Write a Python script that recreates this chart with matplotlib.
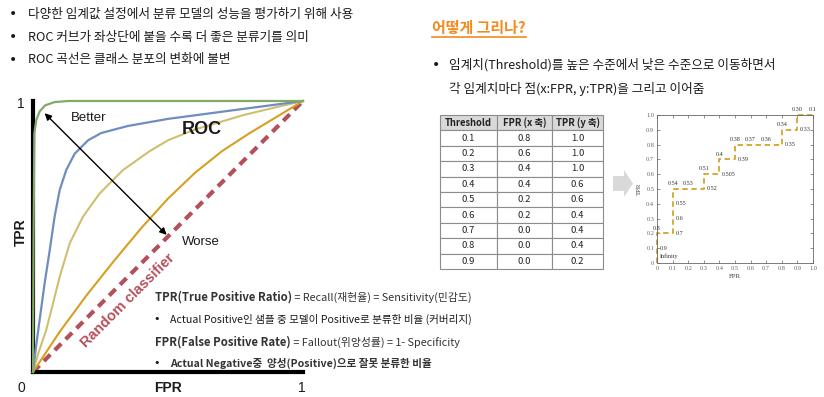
import numpy as np
import matplotlib
matplotlib.use("Agg")
from matplotlib import pyplot as plt
from matplotlib.lines import Line2D
from matplotlib.patches import Polygon

plt.rcParams['font.family'] = ['Noto Sans CJK KR', 'DejaVu Sans']

# ---- data ----
top_bullets = ["다양한 임계값 설정에서 분류 모델의 성능을 평가하기 위해 사용",
               "ROC 커브가 좌상단에 붙을 수록 더 좋은 분류기를 의미",
               "ROC 곡선은 클래스 분포의 변화에 불변"]

green_x = [0, 0.002, 0.005, 0.012, 0.025, 0.045, 0.08, 0.13, 1.0]
green_y = [0, 0.5, 0.88, 0.93, 0.962, 0.984, 0.996, 1.0, 1.0]

blue_x = [0, 0.012, 0.027, 0.043, 0.062, 0.08, 0.099, 0.123, 0.154, 0.204, 0.253, 0.352, 0.5, 0.75, 1.0]
blue_y = [0, 0.1, 0.21, 0.327, 0.45, 0.573, 0.672, 0.745, 0.805, 0.855, 0.882, 0.908, 0.934, 0.967, 1.0]

khaki_x = [0, 0.02, 0.049, 0.068, 0.099, 0.136, 0.185, 0.247, 0.333, 0.432, 0.5, 0.6, 0.779, 0.9, 1.0]
khaki_y = [0, 0.07, 0.155, 0.229, 0.352, 0.475, 0.573, 0.659, 0.745, 0.815, 0.855, 0.895, 0.948, 0.977, 1.0]

gold_x = [0, 0.1, 0.2, 0.3, 0.4, 0.5, 0.6, 0.7, 0.8, 0.9, 1.0]
gold_y = [0, 0.15, 0.285, 0.41, 0.53, 0.64, 0.735, 0.815, 0.88, 0.94, 1.0]

random_x = [0, 1]
random_y = [0, 1]

thresholds = ['0.1', '0.2', '0.3', '0.4', '0.5', '0.6', '0.7', '0.8', '0.9']
fpr_tab = [0.8, 0.6, 0.4, 0.4, 0.2, 0.2, 0.0, 0.0, 0.0]
tpr_tab = [1.0, 1.0, 1.0, 0.6, 0.6, 0.4, 0.4, 0.4, 0.2]
tab_header = ['Threshold', 'FPR (x 축)', 'TPR (y 축)']

step_fpr = [0, 0, 0, 0.1, 0.1, 0.1, 0.1, 0.2, 0.3, 0.3, 0.4, 0.4, 0.5, 0.5, 0.6, 0.7, 0.8, 0.8, 0.9, 0.9, 1.0]
step_tpr = [0, 0.1, 0.2, 0.2, 0.3, 0.4, 0.5, 0.5, 0.5, 0.6, 0.6, 0.7, 0.7, 0.8, 0.8, 0.8, 0.8, 0.9, 0.9, 1.0, 1.0]
step_labels = ['Infinity', '0.9', '0.8', '0.7', '0.6', '0.55', '0.54', '0.53', '0.52', '0.51', '0.505',
               '0.4', '0.39', '0.38', '0.37', '0.36', '0.35', '0.34', '0.33', '0.30', '0.1']

W, H = 824, 397
def fx(x):
    return x / W
def fy(y):
    return 1 - y / H

fig = plt.figure(figsize=(8.24, 3.97), dpi=100)
ink = '#1a1a1a'

# ---- top-left bullets ----
for i, s in enumerate(top_bullets):
    y = 14 + i * 23
    fig.text(fx(13), fy(y), '•', ha='center', va='center', fontsize=10, color=ink, family='DejaVu Sans')
    fig.text(fx(28), fy(y), s, ha='left', va='center', fontsize=9.1, color=ink)

# ---- ROC illustration ----
ax = fig.add_axes([fx(33), fy(372), 270 / W, 271 / H])
ax.set_xlim(0, 1)
ax.set_ylim(0, 1)
for s in ['top', 'right']:
    ax.spines[s].set_visible(False)
for s in ['left', 'bottom']:
    ax.spines[s].set_linewidth(3)
    ax.spines[s].set_color('black')
ax.set_xticks([])
ax.set_yticks([])
ax.patch.set_alpha(0)

ax.plot(random_x, random_y, color='#b4505c', lw=3, linestyle=(0, (2.2, 1.5)), zorder=2, clip_on=False)
ax.plot(gold_x, gold_y, color='#d6a020', lw=1.5, zorder=3, clip_on=False)
ax.plot(khaki_x, khaki_y, color='#cfbf70', lw=1.5, zorder=3, clip_on=False)
ax.plot(blue_x, blue_y, color='#6f8dbf', lw=1.6, zorder=3, clip_on=False)
ax.plot(green_x, green_y, color='#84a866', lw=1.6, zorder=4, clip_on=False)

ax.annotate('', xy=(0.043, 0.955), xytext=(0.495, 0.506),
            arrowprops=dict(arrowstyle='<|-|>', color='black', lw=1, mutation_scale=10,
                            shrinkA=0, shrinkB=0), zorder=5)
ax.text(0.141, 0.937, 'Better', family='Liberation Sans', fontsize=9.5, va='center', color=ink)
ax.text(0.552, 0.893, 'ROC', family='Liberation Sans', fontsize=13, weight='bold', va='center', color=ink)
ax.text(0.552, 0.48, 'Worse', family='Liberation Sans', fontsize=9.5, va='center', color=ink)
ax.text(0.35, 0.262, 'Random classifier', family='Liberation Sans', fontsize=10.5, weight='bold',
        color='#b4505c', rotation=45, ha='center', va='center', rotation_mode='anchor')

fig.text(fx(21), fy(104), '1', ha='center', va='center', family='Liberation Sans', fontsize=10, color=ink)
fig.text(fx(21), fy(388), '0', ha='center', va='center', family='Liberation Sans', fontsize=10, color=ink)
fig.text(fx(302), fy(388), '1', ha='center', va='center', family='Liberation Sans', fontsize=10, color=ink)
fig.text(fx(168), fy(388), 'FPR', ha='center', va='center', family='Liberation Sans', fontsize=10,
         weight='bold', color=ink)
fig.text(fx(21), fy(232), 'TPR', ha='center', va='center', family='Liberation Sans', fontsize=10,
         weight='bold', rotation=90, color=ink)

# ---- definitions text block ----
t1 = fig.text(fx(155), fy(297), 'TPR(True Positive Ratio)', weight='bold', fontsize=8.2,
              va='center', color='#333333')
plt.annotate(' = Recall(재현율) = Sensitivity(민감도)', xy=(1, 0.5), xycoords=t1, va='center',
             fontsize=7.8, color='#333333')
fig.text(fx(157), fy(319), '•', ha='center', va='center', fontsize=8, color=ink, family='DejaVu Sans')
fig.text(fx(170), fy(319), 'Actual Positive인 샘플 중 모델이 Positive로 분류한 비율 (커버리지)',
         fontsize=7.65, va='center', weight='medium', color=ink)
t2 = fig.text(fx(155), fy(342), 'FPR(False Positive Rate)', weight='bold', fontsize=8.2,
              va='center', color='#333333')
plt.annotate(' = Fallout(위양성률) = 1- Specificity', xy=(1, 0.5), xycoords=t2, va='center',
             fontsize=7.8, color='#333333')
fig.text(fx(157), fy(363), '•', ha='center', va='center', fontsize=8, color=ink, family='DejaVu Sans')
fig.text(fx(170), fy(363), 'Actual Negative중  양성(Positive)으로 잘못 분류한 비율',
         fontsize=7.6, va='center', weight='bold', color='#333333')

# ---- right heading and bullet ----
orange = '#f28a1e'
fig.text(fx(432), fy(28), '어떻게 그리나?', fontsize=10.8, weight='bold', color=orange, va='center')
fig.add_artist(Line2D([fx(432), fx(526)], [fy(37), fy(37)], color=orange, lw=1.2))
fig.text(fx(436), fy(65), '•', ha='center', va='center', fontsize=10, color=ink, family='DejaVu Sans')
fig.text(fx(449), fy(65), '임계치(Threshold)를 높은 수준에서 낮은 수준으로 이동하면서',
         fontsize=9.1, va='center', color=ink)
fig.text(fx(449), fy(89), '각 임계치마다 점(x:FPR, y:TPR)을 그리고 이어줌',
         fontsize=9.1, va='center', color=ink)

# ---- table ----
tax = fig.add_axes([fx(440), fy(269), 163 / W, 154 / H])
tax.axis('off')
cells = [[t, '%.1f' % f, '%.1f' % p] for t, f, p in zip(thresholds, fpr_tab, tpr_tab)]
tbl = tax.table(cellText=cells, colLabels=tab_header, cellLoc='center', bbox=[0, 0, 1, 1],
                colWidths=[57, 55, 51])
tbl.auto_set_font_size(False)
for (r, c), cell in tbl.get_celld().items():
    cell.set_edgecolor('#8c8c8c')
    cell.set_linewidth(0.8)
    cell.get_text().set_fontsize(6.8)
    cell.get_text().set_color('#222222')
    if r == 0:
        cell.set_facecolor('#d9d9d9')
        cell.get_text().set_weight('bold')

# ---- grey arrow ----
arrow_pts = [(613, 176), (624, 176), (624, 170), (633, 183.5), (624, 197), (624, 191), (613, 191)]
fig.add_artist(Polygon([(fx(a), fy(b)) for a, b in arrow_pts], closed=True,
                       transform=fig.transFigure, facecolor='#d9d9d9', edgecolor='none'))

# ---- step ROC ----
ax2 = fig.add_axes([fx(657), fy(263), 156 / W, 148 / H])
ax2.set_xlim(0, 1)
ax2.set_ylim(0, 1)
ticks = np.round(np.arange(0, 1.01, 0.1), 1)
ticklabels = ['0'] + ['%.1f' % v for v in ticks[1:]]
ax2.set_xticks(ticks)
ax2.set_yticks(ticks)
ax2.set_xticklabels(ticklabels, family='Liberation Serif', fontsize=4.6, color='#444444')
ax2.set_yticklabels(ticklabels, family='Liberation Serif', fontsize=4.6, color='#444444')
ax2.tick_params(direction='in', length=2, width=0.5, top=True, right=True, pad=2, colors='#666666')
for s in ax2.spines.values():
    s.set_linewidth(0.6)
    s.set_color('#666666')
ax2.set_xlabel('FPR', family='Liberation Serif', fontsize=5, color='#444444', labelpad=2)
ax2.set_ylabel('TPR', family='Liberation Serif', fontsize=5, color='#444444', labelpad=3)
ax2.plot(step_fpr, step_tpr, color='#d4a52a', lw=1.3, linestyle=(0, (3, 2)), clip_on=False)
n = len(step_fpr)
for i in range(n):
    horiz_next = (i == n - 1) or (step_tpr[i + 1] == step_tpr[i])
    if horiz_next:
        ax2.annotate(step_labels[i], (step_fpr[i], step_tpr[i]), xytext=(0, 2), textcoords='offset points',
                     ha='center', va='bottom', family='Liberation Serif', fontsize=4.4, color='#333333',
                     annotation_clip=False)
    else:
        ax2.annotate(step_labels[i], (step_fpr[i], step_tpr[i]), xytext=(2, 0 if i else 3),
                     textcoords='offset points', ha='left', va='center' if i else 'bottom',
                     family='Liberation Serif', fontsize=4.4, color='#333333', annotation_clip=False)

fig.savefig('out.png', dpi=100)
